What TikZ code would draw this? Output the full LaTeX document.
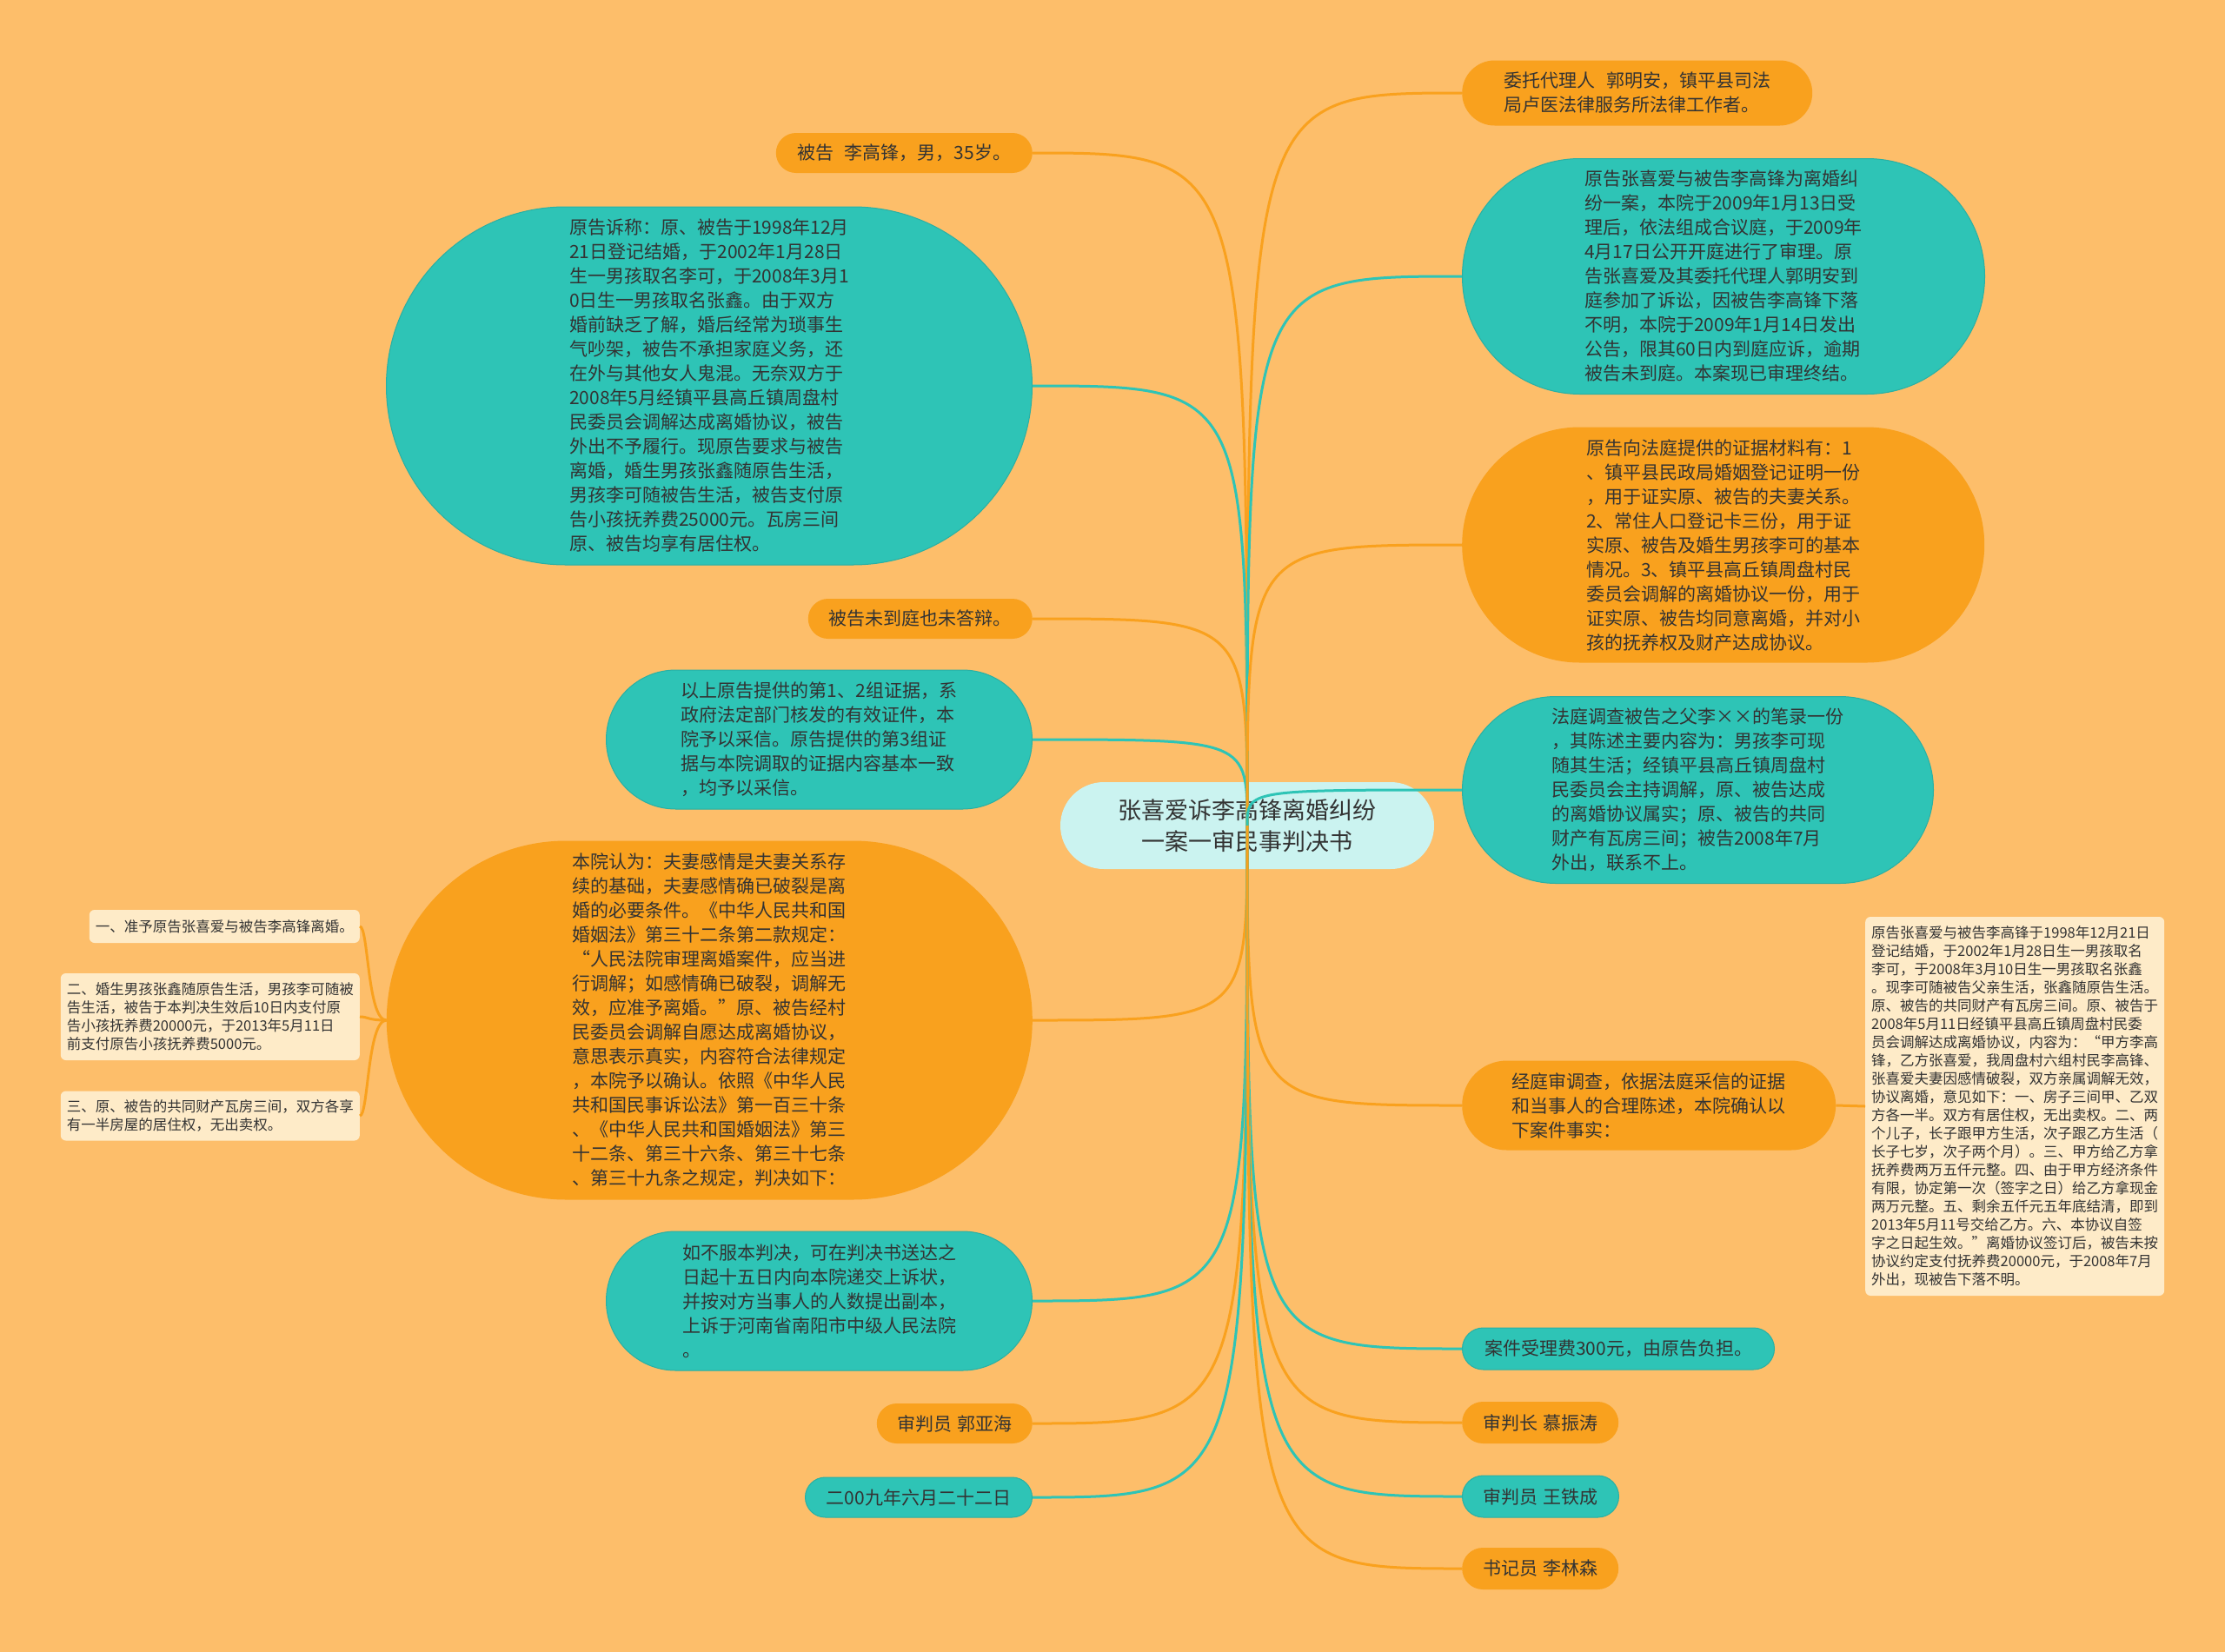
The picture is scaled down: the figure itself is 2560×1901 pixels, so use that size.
\documentclass[tikz,border=0pt]{standalone}
\usepackage{fontspec}
\setmainfont{Noto Sans CJK SC}
\usetikzlibrary{shapes.misc}

\definecolor{bgc}{HTML}{FDBE6A}
\definecolor{tealc}{HTML}{2EC4B6}
\definecolor{orangec}{HTML}{F9A11E}
\definecolor{rootc}{HTML}{CBF3F0}
\definecolor{creamc}{HTML}{FEEBC8}
\definecolor{txt}{HTML}{333333}

\begin{document}
\begin{tikzpicture}[x=1pt, y=-1pt,
    pill/.style={rounded rectangle, inner sep=0pt, text=txt, align=left,
      font=\fontsize{21}{28}\selectfont},
    tealbox/.style={pill, fill=tealc, draw=tealc!90!black, line width=1},
    orangebox/.style={pill, fill=orangec},
    rootbox/.style={pill, fill=rootc, align=center, font=\fontsize{27}{36}\selectfont},
    notebox/.style={rectangle, rounded corners=6, fill=creamc, inner sep=0pt,
      text=txt, align=left, font=\fontsize{16.5}{21}\selectfont},
    link/.style={line width=3}]

    % 背景
    \fill[bgc] (0,0) rectangle (2560,1901);
    \useasboundingbox (0,0) rectangle (2560,1901);

    % 中心主题
    \node[rootbox, minimum width=430, minimum height=100] (root) at (1435,950)
      {张喜爱诉李高锋离婚纠纷\\一案一审民事判决书};

    % 左侧分支
    \node[orangebox, anchor=east, minimum width=295, minimum height=46] (defendant) at (1188,176)
      {被告\hspace{0.6em}李高锋，男，35岁。};
    \node[tealbox, anchor=east, minimum width=743, minimum height=412] (claim) at (1188,444)
      {原告诉称：原、被告于1998年12月\\
       21日登记结婚，于2002年1月28日\\
       生一男孩取名李可，于2008年3月1\\
       0日生一男孩取名张鑫。由于双方\\
       婚前缺乏了解，婚后经常为琐事生\\
       气吵架，被告不承担家庭义务，还\\
       在外与其他女人鬼混。无奈双方于\\
       2008年5月经镇平县高丘镇周盘村\\
       民委员会调解达成离婚协议，被告\\
       外出不予履行。现原告要求与被告\\
       离婚，婚生男孩张鑫随原告生活，\\
       男孩李可随被告生活，被告支付原\\
       告小孩抚养费25000元。瓦房三间\\
       原、被告均享有居住权。};
    \node[orangebox, anchor=east, minimum width=258, minimum height=46] (absent) at (1188,712)
      {被告未到庭也未答辩。};
    \node[tealbox, anchor=east, minimum width=490, minimum height=160] (accept) at (1188,851)
      {以上原告提供的第1、2组证据，系\\
       政府法定部门核发的有效证件，本\\
       院予以采信。原告提供的第3组证\\
       据与本院调取的证据内容基本一致\\
       ，均予以采信。};
    \node[orangebox, anchor=east, minimum width=743, minimum height=413] (ruling) at (1188,1174)
      {本院认为：夫妻感情是夫妻关系存\\
       续的基础，夫妻感情确已破裂是离\\
       婚的必要条件。《中华人民共和国\\
       婚姻法》第三十二条第二款规定：\\
       “人民法院审理离婚案件，应当进\\
       行调解；如感情确已破裂，调解无\\
       效，应准予离婚。”原、被告经村\\
       民委员会调解自愿达成离婚协议，\\
       意思表示真实，内容符合法律规定\\
       ，本院予以确认。依照《中华人民\\
       共和国民事诉讼法》第一百三十条\\
       、《中华人民共和国婚姻法》第三\\
       十二条、第三十六条、第三十七条\\
       、第三十九条之规定，判决如下：};
    \node[tealbox, anchor=east, minimum width=490, minimum height=160] (appeal) at (1188,1497)
      {如不服本判决，可在判决书送达之\\
       日起十五日内向本院递交上诉状，\\
       并按对方当事人的人数提出副本，\\
       上诉于河南省南阳市中级人民法院\\
       。};
    \node[orangebox, anchor=east, minimum width=179, minimum height=46] (judgeA) at (1188,1638)
      {审判员\hspace{0.3em}郭亚海};
    \node[tealbox, anchor=east, minimum width=261, minimum height=46] (date) at (1188,1723)
      {二00九年六月二十二日};

    % 判决主文
    \node[notebox, anchor=east, minimum width=311, minimum height=38] (item1) at (414,1066)
      {一、准予原告张喜爱与被告李高锋离婚。};
    \node[notebox, anchor=east, minimum width=344, minimum height=100] (item2) at (414,1170)
      {二、婚生男孩张鑫随原告生活，男孩李可随被\\
       告生活，被告于本判决生效后10日内支付原\\
       告小孩抚养费20000元，于2013年5月11日\\
       前支付原告小孩抚养费5000元。};
    \node[notebox, anchor=east, minimum width=344, minimum height=57] (item3) at (414,1284)
      {三、原、被告的共同财产瓦房三间，双方各享\\
       有一半房屋的居住权，无出卖权。};

    % 右侧分支
    \node[orangebox, anchor=west, minimum width=403, minimum height=75] (agent) at (1682,107)
      {委托代理人\hspace{0.6em}郭明安，镇平县司法\\
       局卢医法律服务所法律工作者。};
    \node[tealbox, anchor=west, minimum width=601, minimum height=271] (trial) at (1682,318)
      {原告张喜爱与被告李高锋为离婚纠\\
       纷一案，本院于2009年1月13日受\\
       理后，依法组成合议庭，于2009年\\
       4月17日公开开庭进行了审理。原\\
       告张喜爱及其委托代理人郭明安到\\
       庭参加了诉讼，因被告李高锋下落\\
       不明，本院于2009年1月14日发出\\
       公告，限其60日内到庭应诉，逾期\\
       被告未到庭。本案现已审理终结。};
    \node[orangebox, anchor=west, minimum width=601, minimum height=271] (evidence) at (1682,627)
      {原告向法庭提供的证据材料有：1\\
       、镇平县民政局婚姻登记证明一份\\
       ，用于证实原、被告的夫妻关系。\\
       2、常住人口登记卡三份，用于证\\
       实原、被告及婚生男孩李可的基本\\
       情况。3、镇平县高丘镇周盘村民\\
       委员会调解的离婚协议一份，用于\\
       证实原、被告均同意离婚，并对小\\
       孩的抚养权及财产达成协议。};
    \node[tealbox, anchor=west, minimum width=542, minimum height=215] (inquiry) at (1682,909)
      {法庭调查被告之父李××的笔录一份\\
       ，其陈述主要内容为：男孩李可现\\
       随其生活；经镇平县高丘镇周盘村\\
       民委员会主持调解，原、被告达成\\
       的离婚协议属实；原、被告的共同\\
       财产有瓦房三间；被告2008年7月\\
       外出，联系不上。};
    \node[orangebox, anchor=west, minimum width=430, minimum height=103] (facts) at (1682,1272)
      {经庭审调查，依据法庭采信的证据\\
       和当事人的合理陈述，本院确认以\\
       下案件事实：};
    \node[notebox, anchor=west, minimum width=344, minimum height=436] (factsnote) at (2146,1273)
      {原告张喜爱与被告李高锋于1998年12月21日\\
       登记结婚，于2002年1月28日生一男孩取名\\
       李可，于2008年3月10日生一男孩取名张鑫\\
       。现李可随被告父亲生活，张鑫随原告生活。\\
       原、被告的共同财产有瓦房三间。原、被告于\\
       2008年5月11日经镇平县高丘镇周盘村民委\\
       员会调解达成离婚协议，内容为：“甲方李高\\
       锋，乙方张喜爱，我周盘村六组村民李高锋、\\
       张喜爱夫妻因感情破裂，双方亲属调解无效，\\
       协议离婚，意见如下：一、房子三间甲、乙双\\
       方各一半。双方有居住权，无出卖权。二、两\\
       个儿子，长子跟甲方生活，次子跟乙方生活（\\
       长子七岁，次子两个月）。三、甲方给乙方拿\\
       抚养费两万五仟元整。四、由于甲方经济条件\\
       有限，协定第一次（签字之日）给乙方拿现金\\
       两万元整。五、剩余五仟元五年底结清，即到\\
       2013年5月11号交给乙方。六、本协议自签\\
       字之日起生效。”离婚协议签订后，被告未按\\
       协议约定支付抚养费20000元，于2008年7月\\
       外出，现被告下落不明。};
    \node[tealbox, anchor=west, minimum width=359, minimum height=48] (fee) at (1682,1552)
      {案件受理费300元，由原告负担。};
    \node[orangebox, anchor=west, minimum width=180, minimum height=48] (chief) at (1682,1637)
      {审判长\hspace{0.3em}慕振涛};
    \node[tealbox, anchor=west, minimum width=180, minimum height=48] (judgeB) at (1682,1722)
      {审判员\hspace{0.3em}王铁成};
    \node[orangebox, anchor=west, minimum width=180, minimum height=48] (clerk) at (1682,1805)
      {书记员\hspace{0.3em}李林森};

    % 连线命令: \branch{颜色}{节点}{锚点}
    \newcommand{\branch}[3]{
      \draw[link, #1] (root.center) .. controls (root.center |- #2.#3) .. (#2.#3);
    }
    \branch{orangec}{defendant}{east}
    \branch{tealc}{claim}{east}
    \branch{orangec}{absent}{east}
    \branch{tealc}{accept}{east}
    \branch{orangec}{ruling}{east}
    \branch{tealc}{appeal}{east}
    \branch{orangec}{judgeA}{east}
    \branch{tealc}{date}{east}
    \branch{orangec}{agent}{west}
    \branch{tealc}{trial}{west}
    \branch{orangec}{evidence}{west}
    \branch{tealc}{inquiry}{west}
    \branch{orangec}{facts}{west}
    \branch{tealc}{fee}{west}
    \branch{orangec}{chief}{west}
    \branch{tealc}{judgeB}{west}
    \branch{orangec}{clerk}{west}

    % 判决主文连线
    \draw[link, orangec] (ruling.west) .. controls +(-22,0) and +(10,0) .. (item1.east);
    \draw[link, orangec] (ruling.west) .. controls +(-22,0) and +(10,0) .. (item2.east);
    \draw[link, orangec] (ruling.west) .. controls +(-22,0) and +(10,0) .. (item3.east);
    \draw[link, orangec] (facts.east) -- (factsnote.west);
  \end{tikzpicture}
\end{document}
